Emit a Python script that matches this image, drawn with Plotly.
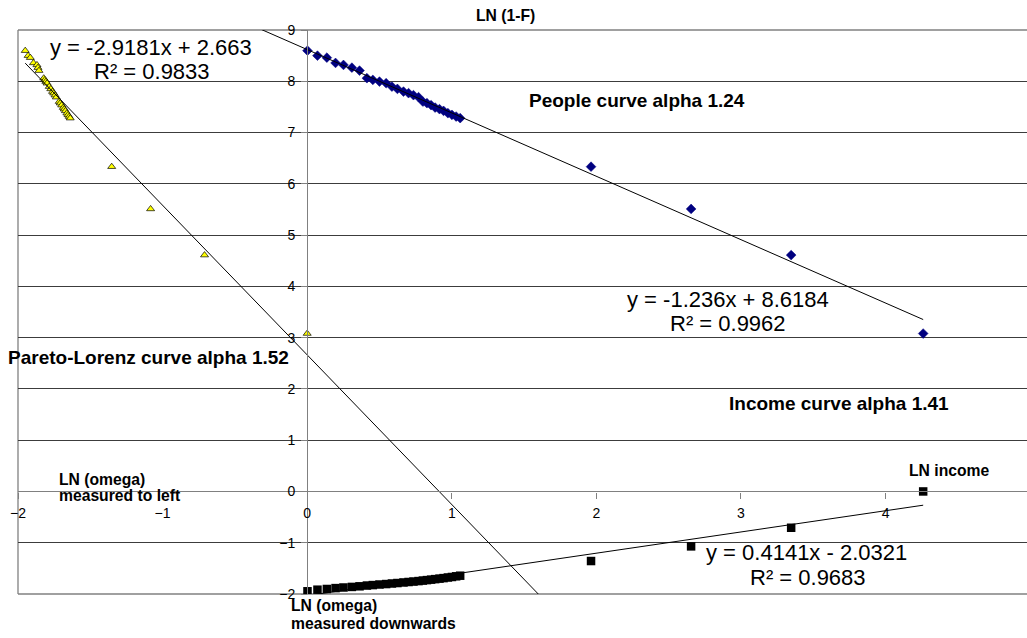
import plotly.graph_objects as go

# ---- data -------------------------------------------------------------
# LN(omega): horizontal position shared by the people and income series
omega = [0.002, 0.071, 0.136, 0.196, 0.251, 0.309, 0.362,
         0.413, 0.454, 0.500, 0.546, 0.586, 0.624, 0.666, 0.701, 0.735, 0.770,
         0.800, 0.828, 0.857, 0.885, 0.915, 0.943, 0.973, 1.001, 1.030, 1.058,
         1.963, 2.655, 3.347, 4.260]

# LN(1-F): people curve (also the height of the Pareto-Lorenz points)
ln_one_minus_f = [8.597, 8.500, 8.461, 8.358, 8.319, 8.266, 8.208,
                  8.060, 8.027, 7.994, 7.962, 7.896, 7.851, 7.799, 7.768, 7.729, 7.690,
                  7.604, 7.573, 7.534, 7.487, 7.456, 7.423, 7.378, 7.345, 7.312, 7.281,
                  6.334, 5.510, 4.610, 3.080]

# LN income (measured downwards)
ln_income = [-1.947, -1.916, -1.902, -1.885, -1.873, -1.862, -1.850,
             -1.835, -1.826, -1.815, -1.806, -1.795, -1.786, -1.775, -1.766, -1.757, -1.748,
             -1.738, -1.729, -1.720, -1.710, -1.700, -1.690, -1.678, -1.668, -1.655, -1.643,
             -1.357, -1.071, -0.708, 0.000]

# LN(omega) measured to the left, for the Pareto-Lorenz curve
pareto_x = [-1.950, -1.930, -1.915, -1.893, -1.869, -1.862, -1.855,
            -1.822, -1.814, -1.807, -1.799, -1.784, -1.773, -1.761, -1.753, -1.744, -1.735,
            -1.715, -1.708, -1.698, -1.687, -1.680, -1.672, -1.662, -1.654, -1.646, -1.639,
            -1.352, -1.083, -0.710, 0.000]

# linear fits: slope, intercept, R^2
people_fit = (-1.236, 8.6184, 0.9962)
pareto_fit = (-2.9181, 2.663, 0.9833)
income_fit = (0.4141, -2.0321, 0.9683)

x_ticks = [-2, -1, 0, 1, 2, 3, 4]
y_ticks = [-2, -1, 0, 1, 2, 3, 4, 5, 6, 7, 8, 9]

X_RANGE = [-2, 4.978]
Y_RANGE = [-2, 9]

FONT = "Arial, 'Liberation Sans', sans-serif"
AXIS_GREY = "#808080"
GRID = "#3c3c3c"


def fit_line(fit, x0, x1):
    m, b, _ = fit
    return [x0, x1], [m * x0 + b, m * x1 + b]


def eq_text(fit):
    m, b, _ = fit
    sign = "+" if b >= 0 else "-"
    return f"y = {m:g}x {sign} {abs(b):g}"


def r2_text(fit):
    return f"R² = {fit[2]:g}"


def to_paper(x, y):
    px = (x - X_RANGE[0]) / (X_RANGE[1] - X_RANGE[0])
    py = (y - Y_RANGE[0]) / (Y_RANGE[1] - Y_RANGE[0])
    return px, py


fig = go.Figure()

# people curve
fig.add_trace(go.Scatter(
    x=omega, y=ln_one_minus_f, mode="markers",
    marker=dict(symbol="diamond", size=7.5, color="#000080",
                line=dict(color="#000080", width=0.5)),
    showlegend=False))

# income curve
fig.add_trace(go.Scatter(
    x=omega, y=ln_income, mode="markers",
    marker=dict(symbol="square", size=8.5, color="#000000"),
    showlegend=False))

# Pareto-Lorenz curve
fig.add_trace(go.Scatter(
    x=pareto_x, y=ln_one_minus_f, mode="markers",
    marker=dict(symbol="triangle-up", size=7, color="#ffff00",
                line=dict(color="#000000", width=0.7)),
    showlegend=False))

# trend lines (extended beyond the data, clipped by the plot area)
for fit, x0, x1 in [(people_fit, -0.5, max(omega)),
                    (pareto_fit, min(pareto_x), 1.8),
                    (income_fit, 0.0, max(omega))]:
    lx, ly = fit_line(fit, x0, x1)
    fig.add_trace(go.Scatter(x=lx, y=ly, mode="lines",
                             line=dict(color="#000000", width=1),
                             hoverinfo="skip", showlegend=False))

annotations = []


def note(text, x, y, size, bold=False, xanchor="center"):
    px, py = to_paper(x, y)
    annotations.append(dict(
        text=f"<b>{text}</b>" if bold else text, x=px, y=py,
        xref="paper", yref="paper",
        showarrow=False, xanchor=xanchor, yanchor="middle",
        font=dict(family=FONT, size=size, color="#000000")))


# trend line equations
note(eq_text(pareto_fit), -1.079, 8.650, 22)
note(r2_text(pareto_fit), -1.072, 8.182, 22)
note(eq_text(people_fit), 2.908, 3.744, 22)
note(r2_text(people_fit), 2.908, 3.277, 22)
note(eq_text(income_fit), 3.456, -1.187, 22)
note(r2_text(income_fit), 3.461, -1.674, 22)

# curve titles
note("People curve alpha 1.24", 2.282, 7.618, 19, bold=True)
note("Income curve alpha 1.41", 3.676, 1.719, 19, bold=True)
note("Pareto-Lorenz curve alpha 1.52", -1.100, 2.621, 19, bold=True)

# axis captions
note("LN (1-F)", 1.369, 9.292, 15.7, bold=True)
note("LN income", 4.440, 0.401, 15.7, bold=True)
note("LN (omega)", -1.729, 0.240, 15.7, bold=True, xanchor="left")
note("measured to left", -1.729, -0.071, 15.7, bold=True, xanchor="left")
note("LN (omega)", -0.124, -2.226, 15.7, bold=True, xanchor="left")
note("measured downwards", -0.124, -2.569, 15.7, bold=True, xanchor="left")

# plot-area frame (top, left, bottom)
frame = []
for x0, y0, x1, y1 in [(0, 1, 1, 1), (0, 0, 0, 1), (0, 0, 1, 0)]:
    frame.append(dict(type="line", xref="paper", yref="paper",
                      x0=x0, y0=y0, x1=x1, y1=y1, layer="between",
                      line=dict(color=AXIS_GREY, width=1.3)))

x_zero, y_zero = to_paper(0, 0)

fig.update_layout(
    width=1027, height=638,
    margin=dict(l=18, r=0, t=30, b=44),
    paper_bgcolor="white", plot_bgcolor="white",
    font=dict(family=FONT, size=14, color="#000000"),
    annotations=annotations, shapes=frame,
    xaxis=dict(range=X_RANGE, tickvals=x_ticks, showgrid=False, zeroline=False,
               anchor="free", position=y_zero, showline=True,
               linecolor=AXIS_GREY, linewidth=1.3,
               ticks="outside", ticklen=6, tickcolor=AXIS_GREY, tickwidth=1,
               ticklabelstandoff=3,
               tickfont=dict(family=FONT, size=14, color="#000000"),
               automargin=False, fixedrange=True),
    yaxis=dict(range=Y_RANGE, tickvals=y_ticks, showgrid=True, gridcolor=GRID,
               gridwidth=1, zeroline=False,
               anchor="free", position=x_zero, showline=True,
               linecolor=AXIS_GREY, linewidth=1.3,
               ticks="outside", ticklen=6, tickcolor=AXIS_GREY, tickwidth=1,
               ticklabelstandoff=3,
               tickfont=dict(family=FONT, size=14, color="#000000"),
               automargin=False, fixedrange=True),
)

fig.write_html("out.html")
